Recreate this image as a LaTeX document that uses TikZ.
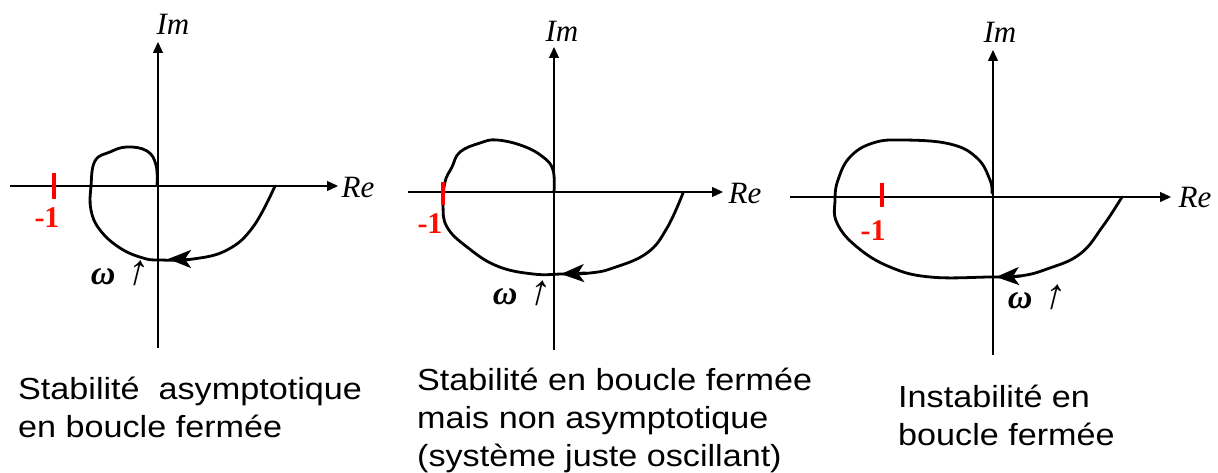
\documentclass[tikz,border=0pt]{standalone}
\usepackage{fontspec}
\usetikzlibrary{arrows.meta}
\newfontfamily\capfont[FakeStretch=1.12]{Liberation Sans}
\newfontfamily\mathlbl{Liberation Serif}
\newfontfamily\slarrow[FakeSlant=0.25]{Liberation Serif}
\newcommand{\omglabel}{{\mathlbl\bfseries\itshape\fontsize{34}{34}\selectfont ω} {\slarrow\fontsize{42}{42}\selectfont ↑}}
\begin{document}
\begin{tikzpicture}[x=1pt,y=-1pt,
  axis/.style={line width=1.3pt,-{Triangle[length=11pt,width=10pt]}},
  curve/.style={line width=2.8pt,line join=round,line cap=round},
  headarrow/.style={line width=2.8pt,-{Stealth[length=23pt,width=18pt,inset=6pt]}},
  redtick/.style={draw=red,line width=4.5pt},
  axlbl/.style={font=\mathlbl\itshape\fontsize{31}{31}\selectfont,inner sep=0pt},
  minus/.style={font=\mathlbl\bfseries\fontsize{30}{30}\selectfont,text=red!90!orange,inner sep=0pt},
  omg/.style={font=\mathlbl\fontsize{34}{34}\selectfont,inner sep=0pt},
  captext/.style={font=\capfont\fontsize{30.5}{38}\selectfont,align=left,anchor=base west,inner sep=0pt}]
\useasboundingbox (0,0) rectangle (1218,473);
% ---------- plot 1 ----------
\draw[axis] (10,186) -- (338,186);
\draw[axis] (158,348) -- (158,42);
\node[axlbl] (im1) at (173,24) {Im};
\node[axlbl] (re1) at (358,188) {Re};
\draw[redtick] (54,173) -- (54,199);
\node[minus] (m1) at (47,218) {-1};
\draw[curve] plot[smooth,tension=0.7] coordinates {(157,186) (156,165) (147,151) (127,147) (110,152) (95,161) (91,186) (91,210) (100,230) (120,248) (143,258) (160,260) (193,259) (227,250) (253,227) (275,186)};
\draw[headarrow] (193,259) -- (168,259);
\node[omg] (w1) at (118,273) {\omglabel};
% ---------- plot 2 ----------
\draw[axis] (408,192) -- (723,192);
\draw[axis] (554,350) -- (554,47);
\node[axlbl] (im2) at (562,31) {Im};
\node[axlbl] (re2) at (745,194) {Re};
\draw[curve] plot[smooth,tension=0.7] coordinates {(554,192) (553,170) (543,157) (523,146) (497,140) (480,143) (460,152) (452,167) (445,182) (443,205) (447,227) (467,247) (497,266) (533,274) (562,274) (590,273) (613,268) (647,253) (667,228) (683,193)};
\draw[redtick] (443,182) -- (443,205);
\node[minus] (m2) at (430,224) {-1};
\draw[headarrow] (586,273) -- (561,274);
\node[omg] (w2) at (520,293) {\omglabel};
% ---------- plot 3 ----------
\draw[axis] (790,197) -- (1171,197);
\draw[axis] (993,355) -- (993,50);
\node[axlbl] (im3) at (1000,32) {Im};
\node[axlbl] (re3) at (1195,198) {Re};
\draw[redtick] (882,183) -- (882,207);
\node[minus] (m3) at (873,231) {-1};
\draw[curve] plot[smooth,tension=0.7] coordinates {(992,193) (990,180) (977,158) (950,144) (903,140) (873,143) (850,157) (838,180) (835,200) (837,223) (857,247) (890,267) (930,277) (990,277) (1020,276) (1047,269) (1080,254) (1103,226) (1122,197)};
\draw[headarrow] (1021,276) -- (996,277);
\node[omg] (w3) at (1035,297) {\omglabel};
% ---------- captions ----------
\node[captext] (c1) at (18,437) {Stabilité~~asymptotique\\en boucle fermée};
\node[captext] (c2) at (417,466) {Stabilité en boucle fermée\\mais non asymptotique\\(système juste oscillant)};
\node[captext] (c3) at (898,445) {Instabilité en\\boucle fermée};
\end{tikzpicture}
\end{document}
